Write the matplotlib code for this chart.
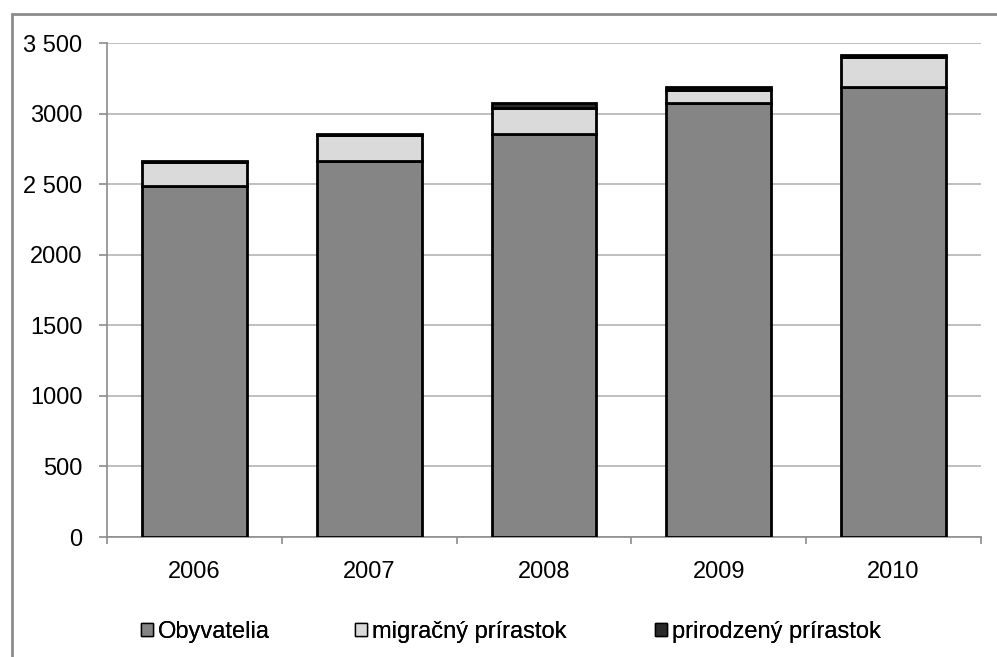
import matplotlib
matplotlib.use("Agg")
import matplotlib.pyplot as plt
from matplotlib.patches import Rectangle, Patch
import numpy as np

plt.rcParams["font.family"] = ["Liberation Sans", "DejaVu Sans"]

years = ["2006", "2007", "2008", "2009", "2010"]
obyvatelia = [2487, 2665, 2856, 3076, 3189]
migracny = [170, 181, 185, 93, 212]
prirodzeny = [8, 10, 35, 20, 15]
labels = ["Obyvatelia", "migračný prírastok", "prirodzený prírastok"]
colors = ["#858585", "#dadada", "#2a2a2a"]

W, H = 997, 657
fig = plt.figure(figsize=(W / 100, H / 100), dpi=100)
# chart frame (gray border, partly outside the picture)
fig.patches.append(Rectangle((12 / W, -0.1), 1.2, 1 - 14 / H + 0.1, transform=fig.transFigure,
                             facecolor="white", edgecolor="#8c8c8c", linewidth=2, zorder=-5))

ax = fig.add_axes([107 / W, 1 - 537 / H, (981 - 107) / W, (537 - 43) / H])
ax.set_facecolor("none")
x = np.arange(len(years))
series = [obyvatelia, migracny, prirodzeny]
bottom = np.zeros(len(years))
for vals, c in zip(series, colors):
    ax.bar(x, vals, 0.6, bottom=bottom, color=c, edgecolor="black", linewidth=2, zorder=3)
    bottom += np.array(vals)

ax.set_xlim(-0.5, len(years) - 0.5)
ax.set_ylim(0, 3500)
ax.set_yticks(range(0, 3501, 500))
ax.set_yticklabels(["0", "500", "1000", "1500", "2000", "2 500", "3000", "3 500"])
ax.yaxis.grid(True, color="#b4b4b4", linewidth=1.2, zorder=0)
ax.set_axisbelow(True)
ax.set_xticks(x)
ax.set_xticklabels(years)
ax.set_xticks(np.arange(-0.5, len(years)), minor=True)
ax.tick_params(axis="x", which="major", length=0, pad=17, labelsize=17)
ax.tick_params(axis="x", which="minor", length=5, color="#8c8c8c", width=1.2)
ax.tick_params(axis="y", length=5.8, color="#8c8c8c", width=1.2, pad=12, labelsize=17)
for s in ["top", "right"]:
    ax.spines[s].set_visible(False)
for s in ["left", "bottom"]:
    ax.spines[s].set_color("#8c8c8c")
    ax.spines[s].set_linewidth(1.2)

# one legend per entry, placed at the reference positions
for lab, c, px in zip(labels, colors, [141, 355, 655]):
    lg = fig.legend([Patch(facecolor=c, edgecolor="black", linewidth=1)], [lab],
                    loc="center left", bbox_to_anchor=(px / W, 1 - 632 / H),
                    frameon=False, fontsize=17, handlelength=0.5, handleheight=0.5,
                    handletextpad=0.2, borderpad=0, borderaxespad=0)
    fig.add_artist(lg)

fig.savefig("out.png", dpi=100)
